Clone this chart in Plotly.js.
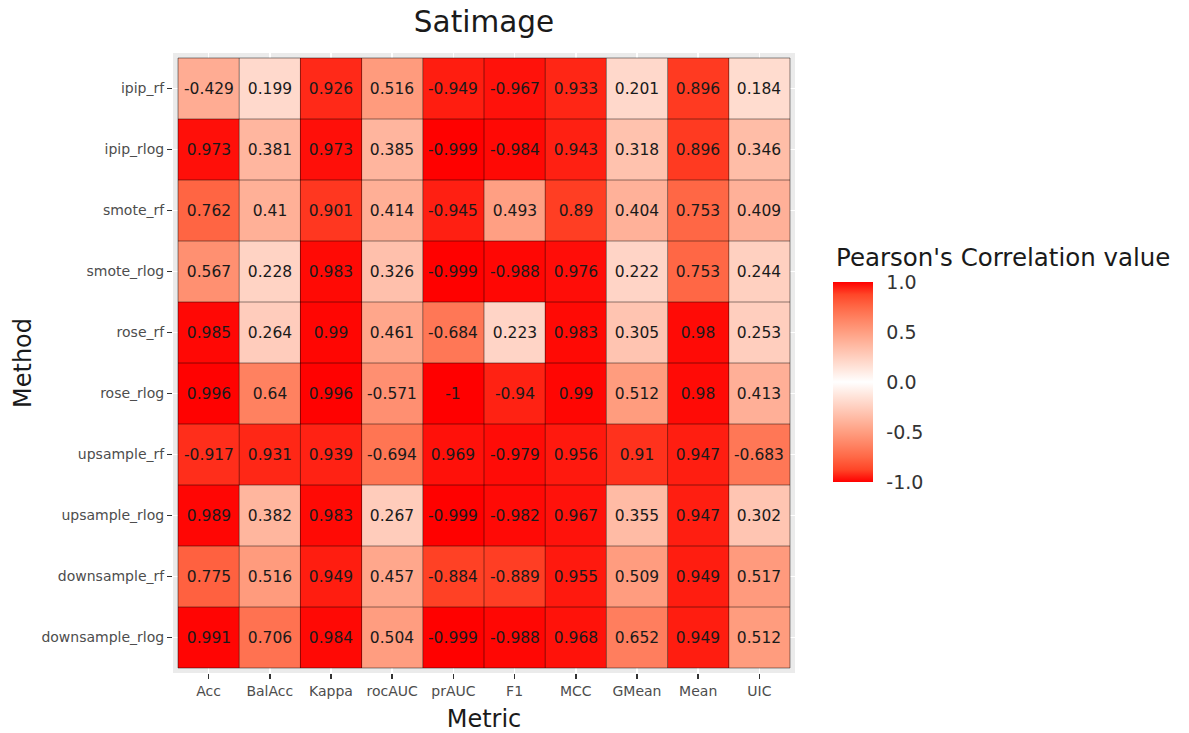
<!DOCTYPE html>
<html>
<head>
<meta charset="utf-8">
<script src="https://cdn.plot.ly/plotly-3.0.1.min.js"></script>
<style>html,body{margin:0;padding:0;background:#fff;}#chart{width:1189px;height:733px;}</style>
</head>
<body>
<div id="chart"></div>
<script>
// ---- data ----
const metrics = ['Acc','BalAcc','Kappa','rocAUC','prAUC','F1','MCC','GMean','Mean','UIC'];
const methods = ['ipip_rf','ipip_rlog','smote_rf','smote_rlog','rose_rf','rose_rlog',
                 'upsample_rf','upsample_rlog','downsample_rf','downsample_rlog'];
const ipip_rf         = [-0.429, 0.199, 0.926, 0.516, -0.949, -0.967, 0.933, 0.201, 0.896, 0.184];
const ipip_rlog       = [0.973, 0.381, 0.973, 0.385, -0.999, -0.984, 0.943, 0.318, 0.896, 0.346];
const smote_rf        = [0.762, 0.41, 0.901, 0.414, -0.945, 0.493, 0.89, 0.404, 0.753, 0.409];
const smote_rlog      = [0.567, 0.228, 0.983, 0.326, -0.999, -0.988, 0.976, 0.222, 0.753, 0.244];
const rose_rf         = [0.985, 0.264, 0.99, 0.461, -0.684, 0.223, 0.983, 0.305, 0.98, 0.253];
const rose_rlog       = [0.996, 0.64, 0.996, -0.571, -1, -0.94, 0.99, 0.512, 0.98, 0.413];
const upsample_rf     = [-0.917, 0.931, 0.939, -0.694, 0.969, -0.979, 0.956, 0.91, 0.947, -0.683];
const upsample_rlog   = [0.989, 0.382, 0.983, 0.267, -0.999, -0.982, 0.967, 0.355, 0.947, 0.302];
const downsample_rf   = [0.775, 0.516, 0.949, 0.457, -0.884, -0.889, 0.955, 0.509, 0.949, 0.517];
const downsample_rlog = [0.991, 0.706, 0.984, 0.504, -0.999, -0.988, 0.968, 0.652, 0.949, 0.512];
const colorTicks = [-1, -0.5, 0, 0.5, 1];

const z = [ipip_rf, ipip_rlog, smote_rf, smote_rlog, rose_rf, rose_rlog,
           upsample_rf, upsample_rlog, downsample_rf, downsample_rlog];
const txt = z.map(r => r.map(v => String(v)));

// red - white - red, interpolated in Lab like ggplot2
const cs = [
  [0, '#FF0000'], [0.0625, 'rgb(255,70,40)'], [0.125, 'rgb(255,104,70)'],
  [0.1875, 'rgb(255,132,100)'], [0.25, 'rgb(255,158,129)'], [0.3125, 'rgb(255,183,160)'],
  [0.375, 'rgb(255,207,191)'], [0.4375, 'rgb(255,231,222)'], [0.5, '#FFFFFF'],
  [0.5625, 'rgb(255,231,222)'], [0.625, 'rgb(255,207,191)'], [0.6875, 'rgb(255,183,160)'],
  [0.75, 'rgb(255,158,129)'], [0.8125, 'rgb(255,132,100)'], [0.875, 'rgb(255,104,70)'],
  [0.9375, 'rgb(255,70,40)'], [1, '#FF0000']
];

const FONT = 'DejaVu Sans, Verdana, sans-serif';
const pad = 0.082;

// plot-area geometry (pixels)
const W = 1189, H = 733, ML = 173, MR = 394, MT = 53, MB = 60;
const PW = W - ML - MR, PH = H - MT - MB;
const px2x = p => (p - ML) / PW;
const py2y = p => (H - MB - p) / PH;

const trace = {
  type: 'heatmap',
  x: metrics, y: methods, z: z,
  text: txt, texttemplate: '%{text}',
  textfont: {family: FONT, size: 15.5, color: '#1a1a1a'},
  zmin: -1, zmax: 1, colorscale: cs,
  hoverinfo: 'x+y+z',
  colorbar: {
    thickness: 40, thicknessmode: 'pixels',
    len: 200, lenmode: 'pixels',
    xref: 'paper', x: px2x(833), xanchor: 'left', xpad: 0,
    yref: 'paper', y: py2y(382.5), yanchor: 'middle', ypad: 0,
    tickmode: 'array', tickvals: colorTicks, ticktext: colorTicks.map(v => v.toFixed(1)),
    ticks: 'outside', ticklen: 10, tickwidth: 1, tickcolor: 'rgba(0,0,0,0)',
    tickfont: {family: FONT, size: 19, color: '#333333'},
    outlinewidth: 0
  }
};

// cell borders at category boundaries
const shapes = [];
for (let i = 0; i <= metrics.length; i++) {
  shapes.push({type: 'line', xref: 'x', yref: 'y', x0: i - 0.5, x1: i - 0.5,
    y0: -0.5, y1: methods.length - 0.5, line: {color: 'rgba(0,0,0,0.45)', width: 1}, layer: 'above'});
}
for (let j = 0; j <= methods.length; j++) {
  shapes.push({type: 'line', xref: 'x', yref: 'y', y0: j - 0.5, y1: j - 0.5,
    x0: -0.5, x1: metrics.length - 0.5, line: {color: 'rgba(0,0,0,0.45)', width: 1}, layer: 'above'});
}

const layout = {
  width: W, height: H,
  margin: {l: ML, r: MR, t: MT, b: MB, pad: 0},
  paper_bgcolor: '#FFFFFF', plot_bgcolor: '#EBEBEB',
  font: {family: FONT, color: '#1a1a1a'},
  title: {text: 'Satimage', x: 0.5, xref: 'paper', xanchor: 'center',
          y: 1 - 22/H, yref: 'container', yanchor: 'middle',
          font: {family: FONT, size: 29.5, color: '#1a1a1a'}},
  xaxis: {
    type: 'category', categoryorder: 'array', categoryarray: metrics,
    range: [-0.5 - pad, metrics.length - 0.5 + pad],
    showgrid: true, gridcolor: '#FFFFFF', gridwidth: 1.5, zeroline: false, showline: false,
    ticks: 'outside', ticklen: 5, tickwidth: 1.5, tickcolor: '#333333',
    tickfont: {family: FONT, size: 14, color: '#4D4D4D'},
    title: {text: 'Metric', font: {family: FONT, size: 24, color: '#1a1a1a'}, standoff: 12},
    fixedrange: true
  },
  yaxis: {
    type: 'category', categoryorder: 'array', categoryarray: methods,
    range: [methods.length - 0.5 + pad, -0.5 - pad],
    showgrid: true, gridcolor: '#FFFFFF', gridwidth: 1.5, zeroline: false, showline: false,
    ticks: 'outside', ticklen: 5, tickwidth: 1.5, tickcolor: '#333333',
    tickfont: {family: FONT, size: 14, color: '#4D4D4D'},
    title: {text: 'Method', font: {family: FONT, size: 24, color: '#1a1a1a'}, standoff: 3},
    fixedrange: true
  },
  annotations: [{
    text: "Pearson's Correlation value", xref: 'paper', yref: 'paper',
    x: px2x(834), y: py2y(257), xanchor: 'left', yanchor: 'middle', showarrow: false,
    font: {family: FONT, size: 24.5, color: '#1a1a1a'}
  }],
  shapes: shapes
};

Plotly.newPlot('chart', [trace], layout, {staticPlot: true, displayModeBar: false});
</script>
</body>
</html>
